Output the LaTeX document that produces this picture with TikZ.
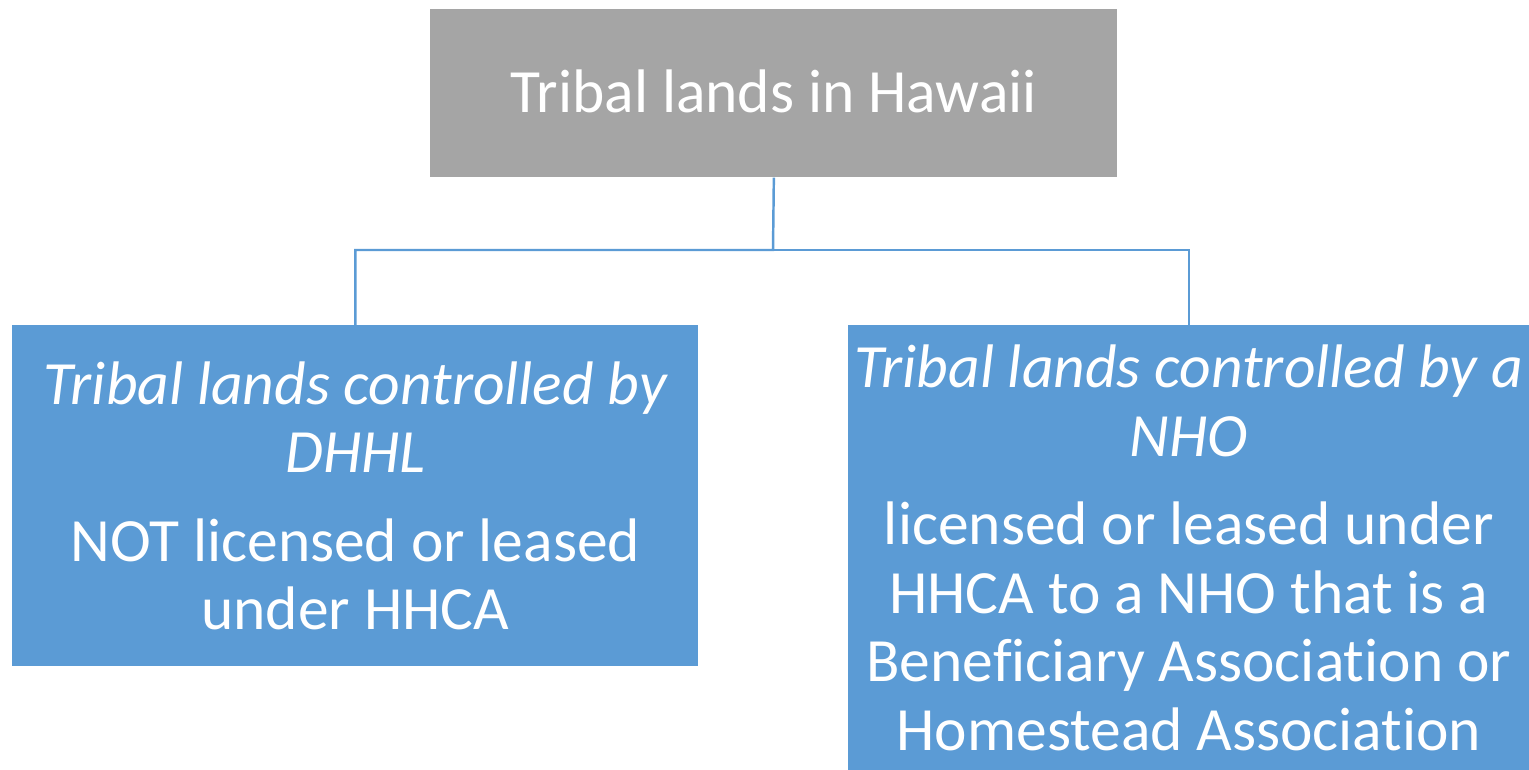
\documentclass[tikz,border=0pt]{standalone}
\usepackage{fontspec}
\setmainfont{Carlito}[Ligatures=NoCommon]
\usepackage{xcolor}
\definecolor{headgray}{HTML}{A5A5A5}
\definecolor{leafblue}{HTML}{5B9BD5}

\tikzset{
  box/.style={anchor=north west, inner sep=0pt, text=white, align=center,
              font=\fontsize{35}{39}\selectfont},
  link/.style={draw=leafblue, line width=1.4pt}
}

\begin{document}
\begin{tikzpicture}[x=0.02cm, y=-0.02cm]
\useasboundingbox (0,0) rectangle (1529,770);
\node[box, fill=headgray, minimum width=687*0.02cm, minimum height=168*0.02cm] (hawaii) at (430,9)
  {\raisebox{0.1cm}{Tribal lands in Hawaii}};
\node[box, fill=leafblue, minimum width=686*0.02cm, minimum height=341*0.02cm] (dhhl) at (12,325)
  {\itshape Tribal lands controlled by\\ \itshape DHHL\\[0.4cm]
   NOT licensed or leased\\ under HHCA};
\node[box, fill=leafblue, minimum width=681*0.02cm, minimum height=445*0.02cm] (nho) at (848,325)
  {\itshape Tribal lands controlled by a\\ \itshape NHO\\[0.4cm]
   licensed or leased under\\ HHCA to a NHO that is a\\ Beneficiary Association or\\ Homestead Association};
\coordinate (split) at (773,250);
\draw[link] (hawaii.south) -- (split) -| (dhhl.north);
\draw[link] (split) -| (nho.north);
\end{tikzpicture}
\end{document}
